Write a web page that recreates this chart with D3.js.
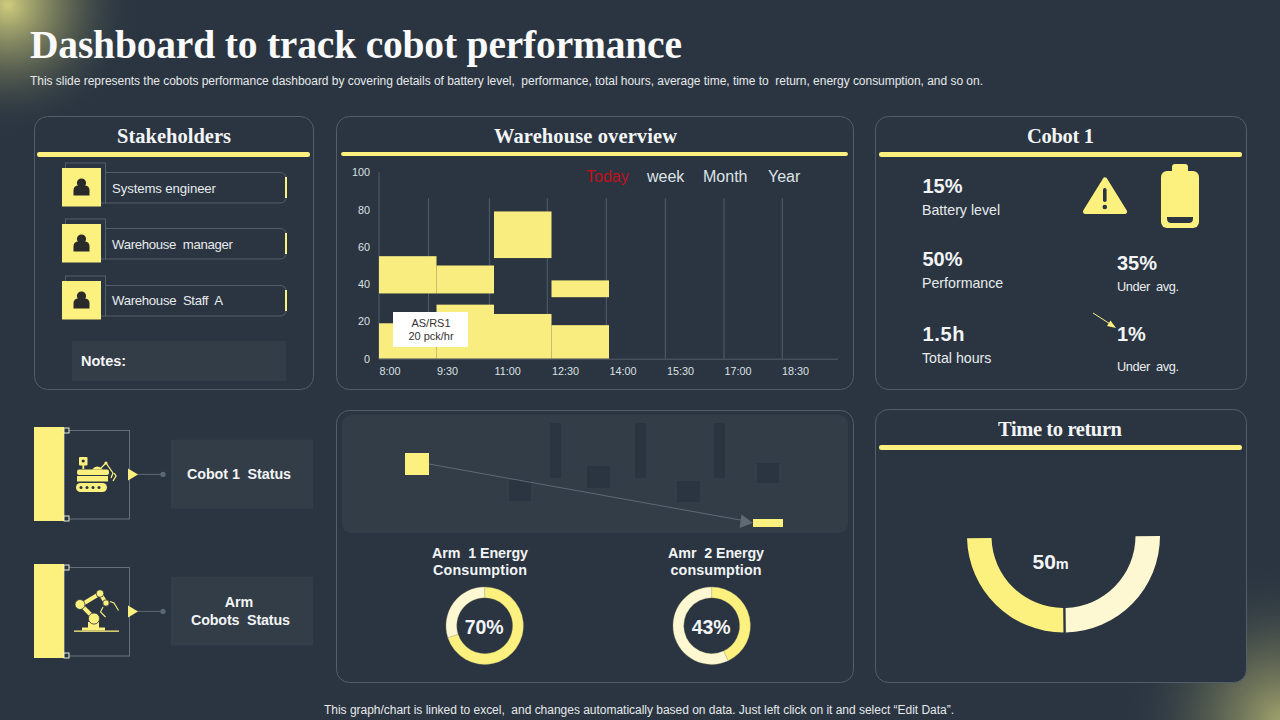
<!DOCTYPE html>
<html>
<head>
<meta charset="utf-8">
<title>Dashboard to track cobot performance</title>
<script src="https://cdn.jsdelivr.net/npm/d3@7"></script>
<style>
html, body { margin: 0; padding: 0; background: #2a3541; overflow: hidden; }
svg { display: block; }
text { font-family: "Liberation Sans", Arial, sans-serif; }
.serif { font-family: "Liberation Serif", serif; font-weight: bold; }
</style>
</head>
<body>
<div id="container"></div>
<script>
// chart values
var slotHours = [8, 9.5, 11, 12.5, 14, 15.5, 17, 18.5];
var slotLabels = ["8:00", "9:30", "11:00", "12:30", "14:00", "15:30", "17:00", "18:30"];
var lowerPacks = [19, 29, 24, 18];
var gapPacks = [16, 6, 30, 15];
var upperPacks = [20, 15, 25, 9];
var yTicks = [0, 20, 40, 60, 80, 100];
var gridHours = [9.29, 10.88, 12.39, 13.93, 15.47, 17, 18.52];
var periods = ["Today", "week", "Month", "Year"];
var stakeholders = ["Systems engineer", "Warehouse  manager", "Warehouse  Staff  A"];
var arm1Energy = [70, 30];
var amr2Energy = [43, 57];
var returnSplit = [50, 50];

var yellow = "#fcf07f", pale = "#fef8d2", bg = "#2a3541", line = "#525e6a", panel2 = "#323d48", dark = "#2a3541";

var svg = d3.select("#container").append("svg").attr("width", 1280).attr("height", 720);

function txt(g, s, x, y, size, opts) {
    opts = opts || {};
    var t = g.append("text").attr("x", x).attr("y", y).attr("font-size", size)
        .attr("fill", opts.fill || "#f2f4f5")
        .attr("text-anchor", opts.anchor || "start")
        .attr("font-weight", opts.bold ? "bold" : "normal")
        .attr("xml:space", "preserve")
        .style("white-space", "pre")
        .text(s);
    if (opts.cls) t.attr("class", opts.cls);
    if (opts.len) t.attr("textLength", opts.len).attr("lengthAdjust", "spacing");
    return t;
}

// background glows
var defs = svg.append("defs");
function glow(id, a) {
    var g = defs.append("radialGradient").attr("id", id);
    g.append("stop").attr("offset", "0%").attr("stop-color", "#d6d480").attr("stop-opacity", a);
    g.append("stop").attr("offset", "45%").attr("stop-color", "#b0b070").attr("stop-opacity", a * 0.45);
    g.append("stop").attr("offset", "100%").attr("stop-color", "#2a3541").attr("stop-opacity", 0);
}
glow("glowA", 0.95);
glow("glowB", 0.7);
svg.append("rect").attr("width", 1280).attr("height", 720).attr("fill", bg);
svg.append("circle").attr("cx", 8).attr("cy", 5).attr("r", 130).attr("fill", "url(#glowA)");
svg.append("circle").attr("cx", 1282).attr("cy", 722).attr("r", 160).attr("fill", "url(#glowB)");

// title block
txt(svg, "Dashboard to track cobot performance", 30, 58, 39.5, {cls: "serif", len: 652, fill: "#fafafa"});
txt(svg, "This slide represents the cobots performance dashboard by covering details of battery level,  performance, total hours, average time, time to  return, energy consumption, and so on.", 30, 85, 12, {len: 953, fill: "#e6e8ea"});
txt(svg, "This graph/chart is linked to excel,  and changes automatically based on data. Just left click on it and select “Edit Data”.", 324, 714, 12, {len: 630, fill: "#e6e8ea"});

// panels
function makePanel(x, y, w, h, title, cx, tw, ruleX, ruleW, ruleH) {
    svg.append("rect").attr("x", x + 0.5).attr("y", y + 0.5).attr("width", w - 1).attr("height", h - 1)
        .attr("rx", 13).attr("fill", bg).attr("stroke", line).attr("stroke-width", 1);
    if (title) {
        txt(svg, title, cx, y + 27, 20.5, {cls: "serif", anchor: "middle", len: tw});
        svg.append("rect").attr("x", ruleX).attr("y", y + 36).attr("width", ruleW).attr("height", ruleH)
            .attr("rx", 2.2).attr("fill", yellow);
    }
}
makePanel(34, 116, 280, 274, "Stakeholders", 174, 114, 37, 273, 5);
makePanel(336, 116, 518, 274, "Warehouse overview", 585.5, 183, 341, 507, 4);
makePanel(875, 116, 372, 274, "Cobot 1", 1060.5, 67, 879, 363, 5);
makePanel(336, 410, 518, 273, null);
makePanel(875, 409, 372, 274, "Time to return", 1060, 124, 879, 363, 5);

// stakeholders
function person(g, cx, cy) {
    g.append("circle").attr("cx", cx).attr("cy", cy - 4).attr("r", 4.6).attr("fill", "#2a2a2a");
    g.append("path").attr("fill", "#2a2a2a")
        .attr("d", "M" + (cx - 8) + "," + (cy + 8.5) + "v-5q0,-5 5,-5h6q5,0 5,5v5z");
}
var rowTop = [168, 224, 281];
var rowLen = [104, 121, 111];
stakeholders.forEach(function (name, i) {
    var t = rowTop[i];
    svg.append("rect").attr("x", 65.5).attr("y", t - 5).attr("width", 40).attr("height", 40)
        .attr("fill", "none").attr("stroke", line);
    svg.append("path").attr("fill", "none").attr("stroke", line)
        .attr("d", "M105," + (t + 4.5) + "H280q6,0 6,6V" + (t + 29) + "q0,6 -6,6H105");
    svg.append("rect").attr("x", 285).attr("y", t + 9).attr("width", 2).attr("height", 21).attr("fill", yellow);
    svg.append("rect").attr("x", 62).attr("y", t).attr("width", 39).attr("height", 38.5).attr("fill", yellow);
    person(svg, 81.5, t + 19);
    txt(svg, name, 112, i == 2 ? t + 24 : t + 25, 13.2, {fill: "#e8ebed", len: rowLen[i]});
});
svg.append("rect").attr("x", 72).attr("y", 341).attr("width", 214).attr("height", 40).attr("fill", panel2);
txt(svg, "Notes:", 81, 366, 14.5, {bold: true});

// warehouse chart
var x = d3.scaleLinear().domain([8, 20]).range([379, 839]);
var y = d3.scaleLinear().domain([0, 100]).range([358.7, 172.3]);

var chart = svg.append("g");
chart.selectAll("line.grid").data(gridHours).enter().append("line").attr("class", "grid")
    .attr("x1", function (d) { return x(d); }).attr("x2", function (d) { return x(d); })
    .attr("y1", y(0)).attr("y2", y(86)).attr("stroke", line);
chart.append("line").attr("x1", x(8)).attr("x2", x(8)).attr("y1", y(0)).attr("y2", y(100)).attr("stroke", line);

var rows = lowerPacks.map(function (v, i) {
    return {hour: slotHours[i], lower: v, gap: gapPacks[i], upper: upperPacks[i]};
});
var stacked = d3.stack().keys(["lower", "gap", "upper"])(rows);
chart.selectAll("g.layer").data(stacked).enter().append("g").attr("class", "layer")
    .attr("fill", function (d) { return d.key == "gap" ? "none" : yellow; })
    .attr("fill-opacity", 0.985)
    .selectAll("rect").data(function (d) { return d; }).enter().append("rect")
    .attr("x", function (d) { return x(d.data.hour); })
    .attr("width", function (d) { return x(d.data.hour + 1.5) - x(d.data.hour); })
    .attr("y", function (d) { return y(d[1]); })
    .attr("height", function (d) { return y(d[0]) - y(d[1]); });

var xAxis = d3.axisBottom(x).tickValues(slotHours).tickSize(0).tickPadding(9)
    .tickFormat(function (d, i) { return slotLabels[i]; });
var xg = chart.append("g").attr("transform", "translate(0," + y(0) + ")").call(xAxis);
xg.select(".domain").attr("stroke", line).attr("d", "M379,0.5H838");
xg.selectAll("text").attr("text-anchor", "start").attr("font-size", 10.8)
    .attr("font-family", "Liberation Sans").attr("fill", "#dde0e3");

var yAxis = d3.axisLeft(y).tickValues(yTicks).tickSize(0).tickPadding(0);
var yg = chart.append("g").attr("transform", "translate(370,0)").call(yAxis);
yg.select(".domain").remove();
yg.selectAll("text").attr("font-size", 10.8).attr("font-family", "Liberation Sans").attr("fill", "#dde0e3");

var periodX = d3.scaleOrdinal().domain(periods).range([586, 647, 703, 768]);
periods.forEach(function (p, i) {
    txt(svg, p, periodX(p), 182, 16, {fill: i == 0 ? "#c0111b" : "#dfe3e6"});
});

svg.append("rect").attr("x", 393).attr("y", 312).attr("width", 75).attr("height", 35).attr("fill", "#ffffff");
txt(svg, "AS/RS1", 431, 327, 11, {anchor: "middle", fill: "#333"});
txt(svg, "20 pck/hr", 431, 340, 11, {anchor: "middle", fill: "#333"});

// cobot figures
var c = svg.append("g");
txt(c, "15%", 922.5, 193, 20, {bold: true});
txt(c, "Battery level", 922, 215, 14.2, {fill: "#e8ebed"});
txt(c, "50%", 922.5, 266, 20, {bold: true});
txt(c, "Performance", 922, 288, 14.2, {fill: "#e8ebed"});
txt(c, "1.5h", 922.5, 341, 20, {bold: true, len: 42});
txt(c, "Total hours", 922, 363, 14.2, {fill: "#e8ebed"});
txt(c, "35%", 1117, 270, 20, {bold: true});
txt(c, "Under  avg.", 1117, 291, 12.8, {fill: "#e8ebed", len: 62});
txt(c, "1%", 1117, 341, 20, {bold: true});
txt(c, "Under  avg.", 1117, 371, 12.8, {fill: "#e8ebed", len: 62});

// warning sign
c.append("path").attr("fill", yellow).attr("stroke", yellow).attr("stroke-width", 5).attr("stroke-linejoin", "round")
    .attr("d", "M1105,180L1124.5,211.5H1085.5Z");
c.append("rect").attr("x", 1103).attr("y", 188).attr("width", 3.6).attr("height", 14).attr("rx", 1.8).attr("fill", dark);
c.append("circle").attr("cx", 1104.8).attr("cy", 207).attr("r", 2.3).attr("fill", dark);
// battery
c.append("rect").attr("x", 1172).attr("y", 164).attr("width", 16).attr("height", 12).attr("rx", 3).attr("fill", yellow);
c.append("rect").attr("x", 1161).attr("y", 171).attr("width", 38).attr("height", 57).attr("rx", 6).attr("fill", yellow);
c.append("path").attr("fill", dark).attr("d", "M1167,217H1193V218.5q0,4.5 -4.5,4.5H1171.5q-4.5,0 -4.5,-4.5Z");
// small arrow
c.append("line").attr("x1", 1093).attr("y1", 313).attr("x2", 1111).attr("y2", 324.5).attr("stroke", yellow).attr("stroke-width", 1);
c.append("path").attr("fill", yellow).attr("d", "M1116,328L1107,326L1110.5,320.5Z");

// status blocks
function statusBlock(top, lines) {
    var g = svg.append("g");
    g.append("rect").attr("x", 64.5).attr("y", top + 3.5).attr("width", 65).attr("height", 88.5)
        .attr("fill", "none").attr("stroke", "#64707b");
    g.append("rect").attr("x", 34).attr("y", top).attr("width", 30).attr("height", 94).attr("fill", yellow);
    [top + 1, top + 89].forEach(function (t) {
        g.append("rect").attr("x", 64).attr("y", t).attr("width", 5).attr("height", 5)
            .attr("fill", bg).attr("stroke", "#fffbe0").attr("stroke-width", 0.9);
    });
    var my = top + 47.4;
    g.append("line").attr("x1", 137).attr("x2", 163).attr("y1", my).attr("y2", my).attr("stroke", "#5c6873");
    g.append("circle").attr("cx", 163).attr("cy", my).attr("r", 2.6).attr("fill", "#5c6873");
    g.append("path").attr("fill", yellow).attr("d", "M128," + (my - 6) + "L138," + my + "L128," + (my + 6) + "Z");
    g.append("rect").attr("x", 171).attr("y", top + 12.7).attr("width", 142).attr("height", 69).attr("fill", panel2);
    if (lines.length == 1) {
        txt(g, lines[0], 239, my + 4.5, 14.3, {anchor: "middle", bold: true, len: 104});
    } else {
        txt(g, lines[0], 239, my - 4.2, 14.3, {anchor: "middle", bold: true});
        txt(g, lines[1], 240.5, my + 13.8, 14.3, {anchor: "middle", bold: true, len: 99});
    }
    return g;
}
var s1 = statusBlock(427, ["Cobot 1  Status"]);
var s2 = statusBlock(564, ["Arm", "Cobots  Status"]);

// rover icon
s1.append("rect").attr("x", 79).attr("y", 457).attr("width", 8.5).attr("height", 8.5).attr("rx", 1).attr("fill", yellow);
s1.append("circle").attr("cx", 83.2).attr("cy", 461).attr("r", 1.6).attr("fill", dark);
s1.append("rect").attr("x", 82.4).attr("y", 465).attr("width", 1.8).attr("height", 4).attr("fill", yellow);
s1.append("rect").attr("x", 77).attr("y", 469.5).attr("width", 32).attr("height", 5.5).attr("rx", 2).attr("fill", yellow);
s1.append("rect").attr("x", 77).attr("y", 476).attr("width", 31).attr("height", 5.5).attr("fill", yellow);
s1.append("path").attr("fill", yellow).attr("d", "M92,469.5q5,-6 11,0z");
s1.append("path").attr("fill", "none").attr("stroke", yellow).attr("stroke-width", 1.3)
    .attr("d", "M101,468L106,463L113,473M113,473L111,478M114,473L116,476L113,481");
s1.append("circle").attr("cx", 106).attr("cy", 463).attr("r", 1.6).attr("fill", yellow);
s1.append("rect").attr("x", 76).attr("y", 483).attr("width", 31).attr("height", 9).attr("rx", 4.5).attr("fill", yellow);
[81, 87, 93, 99].forEach(function (wx) {
    s1.append("circle").attr("cx", wx).attr("cy", 487.5).attr("r", 1.5).attr("fill", dark);
});

// arm icon
s2.append("rect").attr("x", 74).attr("y", 630.5).attr("width", 45).attr("height", 1.3).attr("fill", yellow);
s2.append("rect").attr("x", 82).attr("y", 627.5).attr("width", 23).attr("height", 3).attr("fill", yellow);
s2.append("rect").attr("x", 88).attr("y", 622).attr("width", 11).attr("height", 6).attr("fill", yellow);
s2.append("path").attr("fill", "none").attr("stroke", yellow).attr("stroke-width", 4)
    .attr("d", "M93,617L81,605L100,593.5L106,603");
s2.append("circle").attr("cx", 94).attr("cy", 618.5).attr("r", 5.6).attr("fill", yellow).attr("stroke", dark).attr("stroke-width", 0.8);
s2.append("circle").attr("cx", 80).attr("cy", 604.5).attr("r", 5).attr("fill", yellow).attr("stroke", dark).attr("stroke-width", 0.8);
s2.append("circle").attr("cx", 100).attr("cy", 593.5).attr("r", 3.8).attr("fill", yellow).attr("stroke", dark).attr("stroke-width", 0.8);
s2.append("circle").attr("cx", 106).attr("cy", 603).attr("r", 3.2).attr("fill", yellow).attr("stroke", dark).attr("stroke-width", 0.8);
s2.append("path").attr("fill", "none").attr("stroke", yellow).attr("stroke-width", 1.1)
    .attr("d", "M103,607L100.5,612L105.5,617M110,601.5L114,603L118.5,610.5");

// energy panel backdrop
var e = svg.append("g");
e.append("rect").attr("x", 342).attr("y", 415).attr("width", 506).attr("height", 118).attr("rx", 9).attr("fill", panel2);
[[509, 480, 22, 21], [550, 423, 11, 55], [587, 466, 23, 22], [635, 423, 11, 55], [677, 481, 23, 21], [714, 423, 11, 55], [757, 463, 22, 20]]
    .forEach(function (b) {
        e.append("rect").attr("x", b[0]).attr("y", b[1]).attr("width", b[2]).attr("height", b[3]).attr("fill", dark);
    });
e.append("line").attr("x1", 429).attr("y1", 464).attr("x2", 743).attr("y2", 520.5).attr("stroke", "#5f6a75").attr("stroke-width", 1);
e.append("path").attr("fill", "#5f6a75").attr("d", "M753,523L739.5,528L741.5,514.5Z");
e.append("rect").attr("x", 405).attr("y", 453).attr("width", 24).attr("height", 22).attr("fill", yellow);
e.append("rect").attr("x", 753).attr("y", 519).attr("width", 30).attr("height", 8).attr("fill", yellow);

// donuts
function donut(values, cx, cy, label) {
    var arcs = d3.pie().sort(null)(values);
    var arc = d3.arc().innerRadius(28).outerRadius(38.7);
    var g = svg.append("g").attr("transform", "translate(" + cx + "," + cy + ")");
    g.selectAll("path").data(arcs).enter().append("path")
        .attr("d", arc)
        .attr("fill", function (d, i) { return i == 0 ? yellow : pale; })
        .attr("stroke", "#b9b377").attr("stroke-width", 0.3);
    txt(g, label, -0.5, 8.5, 19.5, {anchor: "middle", bold: true});
}
txt(svg, "Arm  1 Energy", 480, 558, 14.3, {anchor: "middle", bold: true, len: 96});
txt(svg, "Consumption", 480, 575, 14.3, {anchor: "middle", bold: true, len: 94});
txt(svg, "Amr  2 Energy", 716, 558, 14.3, {anchor: "middle", bold: true, len: 96});
txt(svg, "consumption", 716, 575, 14.3, {anchor: "middle", bold: true, len: 91});
donut(arm1Energy, 484.7, 625.7, arm1Energy[0] + "%");
donut(amr2Energy, 711.7, 625.7, amr2Energy[0] + "%");

// time to return half ring, drawn left to right along the bottom
var halfArcs = d3.pie().sort(null).startAngle(Math.PI * 1.5 - 0.012).endAngle(Math.PI * 0.5 - 0.012)(returnSplit);
var halfArc = d3.arc().innerRadius(72).outerRadius(96.5).padAngle(0.02);
var half = svg.append("g").attr("transform", "translate(1063.5,536)");
half.selectAll("path").data(halfArcs).enter().append("path")
    .attr("d", halfArc)
    .attr("fill", function (d, i) { return i == 0 ? yellow : pale; });
var fifty = txt(svg, "50", 1032.5, 569, 21, {bold: true});
fifty.append("tspan").attr("font-size", 14.5).text("m");
</script>
</body>
</html>
